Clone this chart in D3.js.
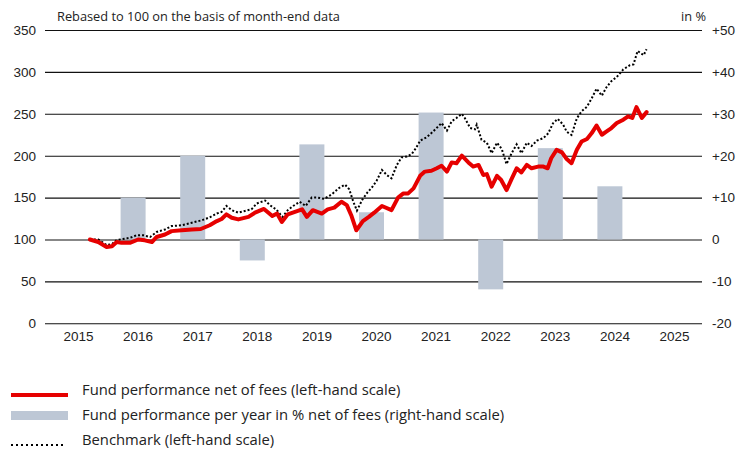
<!DOCTYPE html>
<html>
<head>
<meta charset="utf-8">
<script src="https://cdn.jsdelivr.net/npm/d3@7"></script>
<style>
  html, body { margin: 0; padding: 0; background: #fff; }
  svg { display: block; font-family: "Open Sans", "Noto Sans", sans-serif; }
</style>
</head>
<body>
<svg id="chart" width="748" height="453"></svg>
<script>
// ---------- DATA ----------
const yearTicks = [2015, 2016, 2017, 2018, 2019, 2020, 2021, 2022, 2023, 2024, 2025];
const leftTicks = [0, 50, 100, 150, 200, 250, 300, 350];
const rightTicks = [-20, -10, 0, 10, 20, 30, 40, 50];

// Calendar-year performance (right-hand scale, %)
const barYears  = [2016, 2017, 2018, 2019, 2020, 2021, 2022, 2023, 2024];
const barValues = [10, 20, -5, 22.7, 6.5, 30.3, -11.9, 21.8, 12.7];

// Fund performance net of fees (rebased to 100)
const fundDates = [2015.20, 2015.34, 2015.48, 2015.57, 2015.65, 2015.73, 2015.87, 2016.01, 2016.12, 2016.24,
  2016.32, 2016.46, 2016.57, 2016.74, 2016.91, 2017.06, 2017.21, 2017.33, 2017.41, 2017.49,
  2017.58, 2017.69, 2017.86, 2017.97, 2018.12, 2018.26, 2018.34, 2018.42, 2018.52, 2018.64,
  2018.76, 2018.84, 2018.94, 2019.09, 2019.19, 2019.30, 2019.42, 2019.51, 2019.59, 2019.67,
  2019.78, 2019.88, 2019.97, 2020.10, 2020.26, 2020.37, 2020.46, 2020.54, 2020.63, 2020.74,
  2020.82, 2020.93, 2021.02, 2021.10, 2021.19, 2021.27, 2021.35, 2021.44, 2021.55, 2021.63,
  2021.72, 2021.80, 2021.86, 2021.94, 2022.03, 2022.10, 2022.19, 2022.28, 2022.36, 2022.44,
  2022.53, 2022.61, 2022.72, 2022.81, 2022.88, 2022.94, 2023.03, 2023.12, 2023.20, 2023.28,
  2023.37, 2023.45, 2023.54, 2023.62, 2023.70, 2023.79, 2023.87, 2023.95, 2024.04, 2024.15,
  2024.23, 2024.30, 2024.37, 2024.46, 2024.54];
const fundValues = [100, 97, 91, 92, 97, 96, 96, 100, 99, 97,
  103, 106, 110, 111, 112, 112.5, 117, 122, 124.5, 130,
  126, 124, 127, 132, 136.5, 128, 131, 121, 130, 133,
  136, 127, 135, 131, 136, 138, 145, 141, 128, 111,
  122, 127, 132, 140, 135, 150, 155, 155, 161, 176,
  181, 182, 185, 188, 181, 192, 191, 200, 192, 187,
  189, 177, 178, 163, 176, 171, 159, 173, 185, 180,
  189, 185, 187, 187, 185, 197, 207, 204, 196, 191,
  207, 217, 220, 227, 236, 225, 229, 233, 239, 243,
  247, 245, 258, 245, 252];

// Benchmark (rebased to 100)
const benchDates = [2015.20, 2015.34, 2015.48, 2015.57, 2015.65, 2015.79, 2015.90, 2015.98, 2016.10, 2016.21,
  2016.32, 2016.46, 2016.57, 2016.74, 2016.91, 2017.08, 2017.21, 2017.33, 2017.41, 2017.49,
  2017.58, 2017.69, 2017.80, 2017.91, 2018.00, 2018.14, 2018.22, 2018.33, 2018.43, 2018.52,
  2018.61, 2018.72, 2018.82, 2018.92, 2019.02, 2019.13, 2019.26, 2019.38, 2019.48, 2019.55,
  2019.62, 2019.68, 2019.77, 2019.86, 2019.93, 2020.01, 2020.10, 2020.18, 2020.26, 2020.35,
  2020.43, 2020.52, 2020.60, 2020.67, 2020.74, 2020.85, 2020.96, 2021.10, 2021.19, 2021.27,
  2021.35, 2021.44, 2021.49, 2021.58, 2021.66, 2021.69, 2021.77, 2021.86, 2021.94, 2022.03,
  2022.11, 2022.19, 2022.28, 2022.36, 2022.44, 2022.53, 2022.61, 2022.70, 2022.81, 2022.89,
  2022.97, 2023.05, 2023.14, 2023.20, 2023.28, 2023.37, 2023.45, 2023.54, 2023.62, 2023.70,
  2023.79, 2023.87, 2023.95, 2024.04, 2024.15, 2024.26, 2024.32, 2024.39, 2024.49, 2024.54];
const benchValues = [100, 100, 93.4, 94.6, 99.4, 101, 102.6, 105, 105, 103,
  109, 112, 116, 117, 120, 123, 126.5, 131, 133, 140,
  135, 132, 134, 136, 143, 146.5, 141, 135.5, 127, 135,
  140, 145, 140, 150, 150, 148.5, 154, 161.5, 165.5, 160,
  145, 134.5, 147.5, 156.5, 162, 170, 183, 177, 173, 189,
  198, 199, 202, 209, 218, 222, 229, 239, 230, 241,
  245, 250, 245, 233, 231.5, 237, 219, 215.5, 203, 215.5,
  208, 190, 203.6, 213.6, 203, 215.5, 211.6, 218, 221, 226.7,
  238.7, 244, 237, 228.6, 224.7, 244.6, 253, 258.5, 268.5, 280,
  271.6, 282, 289, 294, 303, 308, 309, 325, 320, 327];

const titleText = "Rebased to 100 on the basis of month-end data";
const unitText = "in %";
const legendLabels = [
  "Fund performance net of fees (left-hand scale)",
  "Fund performance per year in % net of fees (right-hand scale)",
  "Benchmark (left-hand scale)"
];

// ---------- STYLE ----------
const RED = "#e60000";
const BAR = "#bdc7d5";
const TEXT = "#222";

const svg = d3.select("#chart");
const plotLeft = 45, plotRight = 702, plotTop = 30, plotBottom = 323.3;

const x = d3.scaleLinear().domain([2015, 2025]).range([78, 674]);
const y = d3.scaleLinear().domain([0, 350]).range([plotBottom, plotTop]);
const y2 = d3.scaleLinear().domain([-20, 50]).range([plotBottom, plotTop]);

// Gridlines + left axis
const gLeft = svg.append("g")
  .attr("transform", `translate(${plotLeft},0)`)
  .call(d3.axisLeft(y).tickValues(leftTicks).tickSizeInner(-(plotRight - plotLeft)).tickSizeOuter(0).tickPadding(9));
gLeft.select(".domain").remove();
gLeft.selectAll(".tick line").attr("stroke", "#111").attr("stroke-width", 1.1);
gLeft.selectAll(".tick text").attr("fill", TEXT).style("font-size", "13.5px");

// Right axis
const gRight = svg.append("g")
  .attr("transform", `translate(${plotRight},0)`)
  .call(d3.axisRight(y2).tickValues(rightTicks).tickSize(0).tickPadding(10)
    .tickFormat(d => d > 0 ? "+" + d : String(d)));
gRight.select(".domain").remove();
gRight.selectAll(".tick text").attr("fill", TEXT).style("font-size", "13.5px");

// X axis
const gX = svg.append("g")
  .attr("transform", `translate(0,${plotBottom})`)
  .call(d3.axisBottom(x).tickValues(yearTicks).tickSize(0).tickPadding(8).tickFormat(d3.format("d")));
gX.select(".domain").remove();
gX.selectAll(".tick text").attr("fill", TEXT).style("font-size", "13.5px");

// Bars
const barW = 25, barShift = -4.5;
svg.append("g").selectAll("rect")
  .data(barYears.map((yr, i) => ({ yr, v: barValues[i] })))
  .join("rect")
  .attr("x", d => x(d.yr) + barShift - barW / 2)
  .attr("width", barW)
  .attr("y", d => Math.min(y2(d.v), y2(0)))
  .attr("height", d => Math.abs(y2(d.v) - y2(0)))
  .attr("fill", BAR);

// Lines
const line = d3.line().x(d => x(d[0])).y(d => y(d[1]));
svg.append("path")
  .datum(benchDates.map((d, i) => [d, benchValues[i]]))
  .attr("d", line)
  .attr("fill", "none")
  .attr("stroke", "#000")
  .attr("stroke-width", 2)
  .attr("stroke-dasharray", "2,2");

svg.append("path")
  .datum(fundDates.map((d, i) => [d, fundValues[i]]))
  .attr("d", line)
  .attr("fill", "none")
  .attr("stroke", RED)
  .attr("stroke-width", 4)
  .attr("stroke-linejoin", "round")
  .attr("stroke-linecap", "round");

// Title and unit
svg.append("text").attr("x", 57).attr("y", 21).text(titleText)
  .attr("fill", TEXT).style("font-size", "12.8px");
svg.append("text").attr("x", 706).attr("y", 21).attr("text-anchor", "end").text(unitText)
  .attr("fill", TEXT).style("font-size", "12.8px");

// Legend
const legY = [395, 420, 445];
const leg = svg.append("g");
leg.append("line").attr("x1", 11).attr("x2", 68).attr("y1", legY[0]).attr("y2", legY[0])
  .attr("stroke", RED).attr("stroke-width", 4);
leg.append("rect").attr("x", 11).attr("width", 57).attr("y", legY[1] - 9).attr("height", 9).attr("fill", BAR);
leg.append("line").attr("x1", 11).attr("x2", 63).attr("y1", legY[2]).attr("y2", legY[2])
  .attr("stroke", "#000").attr("stroke-width", 2).attr("stroke-dasharray", "2,3");
leg.selectAll("text.leg").data(legendLabels).join("text")
  .attr("class", "leg")
  .attr("x", 82).attr("y", (d, i) => legY[i])
  .attr("fill", TEXT).style("font-size", "14.8px")
  .text(d => d);
</script>
</body>
</html>
